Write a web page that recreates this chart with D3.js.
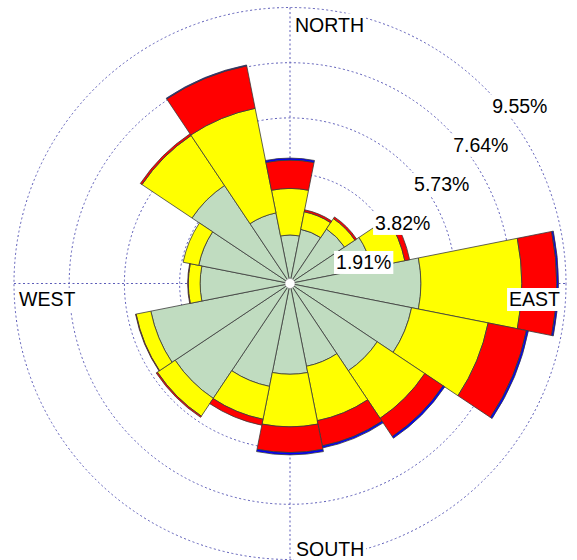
<!DOCTYPE html>
<html>
<head>
<meta charset="utf-8">
<script src="https://cdn.jsdelivr.net/npm/d3@7"></script>
<style>
	body { margin: 0; background: #ffffff; }
	text { font-family: "Liberation Sans", Arial, sans-serif; font-size: 19.5px; fill: #000000; }
</style>
</head>
<body>
<div class="rose"></div>
<script>
var directions = ["N","NNE","NE","ENE","E","ESE","SE","SSE","S","SSW","SW","WSW","W","WNW","NW","NNW"];
// percent of time per speed class, stacked from the centre outwards
var speedClass1 = [1.68, 1.91, 2.27, 2.87, 4.53, 4.29, 3.63, 2.92, 3.14, 3.63, 4.78, 4.91, 3.11, 3.22, 4.08, 2.49];
var speedClass2 = [1.61, 0.62, 0.43, 1.18, 3.49, 2.70, 1.98, 1.92, 1.82, 1.16, 0.74, 0.52, 0.41, 0.55, 2.08, 3.69];
var speedClass3 = [0.98, 0.07, 0.07, 0.17, 1.21, 1.35, 0.76, 0.89, 0.89, 0.21, 0.05, 0.02, 0.02, 0.00, 0.07, 1.50];
var speedClass4 = [0.07, 0.00, 0.00, 0.00, 0.06, 0.07, 0.07, 0.07, 0.08, 0.00, 0.00, 0.00, 0.00, 0.00, 0.00, 0.03];
var ringTicks = [1.91, 3.82, 5.73, 7.64, 9.55];
var compassLabels = ["NORTH","EAST","SOUTH","WEST"];
var colorArray = ["#c0dcc0","#ffff00","#ff0000","#0000ff"];

var totalWidth = 577;
var totalHeight = 560;
var center = { x: 290, y: 283.5 };
var outR = 276;

var svg = d3.select(".rose").append("svg")
	.attr("width", totalWidth)
	.attr("height", totalHeight);

var r = d3.scaleLinear().domain([0, 9.55]).range([0, outR]);
var angle = d3.scaleLinear().domain([0, directions.length]).range([0, 2 * Math.PI]);

//grid
var grid = svg.append("g")
	.attr("transform", "translate(" + center.x + "," + center.y + ")")
	.attr("fill", "none")
	.attr("stroke", "#5c5cb8")
	.attr("stroke-width", 1)
	.attr("stroke-dasharray", "2,2.5");
grid.selectAll("circle").data(ringTicks)
	.enter().append("circle")
	.attr("r", function(d) { return r(d); });
grid.append("line")
	.attr("x1", 0).attr("y1", -outR)
	.attr("x2", 0).attr("y2", outR);
grid.append("line")
	.attr("x1", -outR).attr("y1", 0)
	.attr("x2", outR).attr("y2", 0);

//petals
var table = directions.map(function(d, i) {
	return { dir: d, c1: speedClass1[i], c2: speedClass2[i], c3: speedClass3[i], c4: speedClass4[i] };
});
var series = d3.stack().keys(["c1","c2","c3","c4"])(table);

var arc = d3.arc()
	.innerRadius(function(d) { return r(d[0]); })
	.outerRadius(function(d) { return r(d[1]); })
	.startAngle(function(d, i) { return angle(i - 0.5); })
	.endAngle(function(d, i) { return angle(i + 0.5); });

var petals = svg.append("g")
	.attr("transform", "translate(" + center.x + "," + center.y + ")");
petals.selectAll("g").data(series)
	.enter().append("g")
	.attr("fill", function(d, i) { return colorArray[i]; })
	.selectAll("path").data(function(d) { return d; })
	.enter().filter(function(d) { return d[1] - d[0] > 0; })
	.append("path")
	.attr("d", function(d) { return arc(d, directions.indexOf(d.data.dir)); })
	.attr("stroke", "#3a3a3a")
	.attr("stroke-width", 0.8);

petals.append("circle")
	.attr("r", 5)
	.attr("fill", "#ffffff")
	.attr("stroke", "#999999")
	.attr("stroke-width", 0.6);

//labels
function boxed(t) {
	var b = t.node().getBBox();
	svg.insert("rect", function() { return t.node(); })
		.attr("x", b.x - 2)
		.attr("y", b.y)
		.attr("width", b.width + 4)
		.attr("height", b.height + 1)
		.attr("fill", "#ffffff");
}
ringTicks.forEach(function(v) {
	var t = svg.append("text")
		.attr("x", center.x + r(v) * Math.SQRT1_2 + 7)
		.attr("y", center.y - r(v) * Math.SQRT1_2 + 24.5)
		.text(v.toFixed(2) + "%");
	boxed(t);
});
var compassPos = [
	{ x: center.x + 5, y: center.y - outR + 24, anchor: "start" },
	{ x: center.x + outR - 6, y: center.y + 22.5, anchor: "end" },
	{ x: center.x + 6, y: center.y + outR - 4, anchor: "start" },
	{ x: center.x - outR + 5, y: center.y + 22.5, anchor: "start" }
];
compassLabels.forEach(function(name, i) {
	var t = svg.append("text")
		.attr("x", compassPos[i].x)
		.attr("y", compassPos[i].y)
		.attr("text-anchor", compassPos[i].anchor)
		.text(name);
	boxed(t);
});
</script>
</body>
</html>
